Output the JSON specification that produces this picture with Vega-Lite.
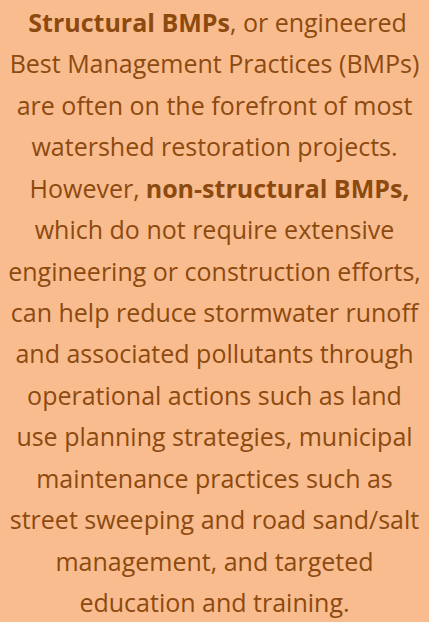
{
  "$schema": "https://vega.github.io/schema/vega-lite/v6.json",
  "autosize": {"type": "fit", "contains": "padding"},
  "width": 429,
  "height": 622,
  "padding": 0,
  "background": "#F9BC8E",
  "config": {"view": {"stroke": null}},
  "data": {
    "values": [
      {"line": 1, "part": "Structural BMPs", "pos": 0.536, "kind": "rb"},
      {"line": 1, "part": ", or engineered", "pos": 0.536, "kind": "ln"},
      {"line": 2, "part": "Best Management Practices (BMPs)", "pos": 0.5, "kind": "c"},
      {"line": 3, "part": "are often on the forefront of most", "pos": 0.5, "kind": "c"},
      {"line": 4, "part": "watershed restoration projects.", "pos": 0.5, "kind": "c"},
      {"line": 5, "part": "However,", "pos": 0.328, "kind": "rn"},
      {"line": 5, "part": "non-structural BMPs,", "pos": 0.328, "kind": "lb"},
      {"line": 6, "part": "which do not require extensive", "pos": 0.5, "kind": "c"},
      {"line": 7, "part": "engineering or construction efforts,", "pos": 0.5, "kind": "c"},
      {"line": 8, "part": "can help reduce stormwater runoff", "pos": 0.5, "kind": "c"},
      {"line": 9, "part": "and associated pollutants through", "pos": 0.5, "kind": "c"},
      {"line": 10, "part": "operational actions such as land", "pos": 0.5, "kind": "c"},
      {"line": 11, "part": "use planning strategies, municipal", "pos": 0.5, "kind": "c"},
      {"line": 12, "part": "maintenance practices such as", "pos": 0.5, "kind": "c"},
      {"line": 13, "part": "street sweeping and road sand/salt", "pos": 0.5, "kind": "c"},
      {"line": 14, "part": "management, and targeted", "pos": 0.5, "kind": "c"},
      {"line": 15, "part": "education and training.", "pos": 0.5, "kind": "c"}
    ]
  },
  "encoding": {
    "x": {"field": "pos", "type": "quantitative", "scale": {"domain": [0, 1]}, "axis": null},
    "y": {"field": "line", "type": "ordinal", "scale": {"type": "point", "padding": 0.5}, "axis": null},
    "text": {"field": "part"}
  },
  "layer": [
    {
      "transform": [{"filter": "datum.kind == 'c'"}],
      "mark": {"type": "text", "align": "center", "baseline": "alphabetic", "dy": 11, "font": "Open Sans", "fontSize": 25, "color": "#8C4A10"}
    },
    {
      "transform": [{"filter": "datum.kind == 'rb'"}],
      "mark": {"type": "text", "align": "right", "baseline": "alphabetic", "dy": 11, "font": "Open Sans", "fontSize": 25, "fontWeight": "bold", "color": "#8C4A10"}
    },
    {
      "transform": [{"filter": "datum.kind == 'ln'"}],
      "mark": {"type": "text", "align": "left", "baseline": "alphabetic", "dy": 11, "font": "Open Sans", "fontSize": 25, "color": "#8C4A10"}
    },
    {
      "transform": [{"filter": "datum.kind == 'rn'"}],
      "mark": {"type": "text", "align": "right", "baseline": "alphabetic", "dx": -1, "dy": 11, "font": "Open Sans", "fontSize": 25, "color": "#8C4A10"}
    },
    {
      "transform": [{"filter": "datum.kind == 'lb'"}],
      "mark": {"type": "text", "align": "left", "baseline": "alphabetic", "dx": 5, "dy": 11, "font": "Open Sans", "fontSize": 25, "fontWeight": "bold", "color": "#8C4A10"}
    }
  ]
}
